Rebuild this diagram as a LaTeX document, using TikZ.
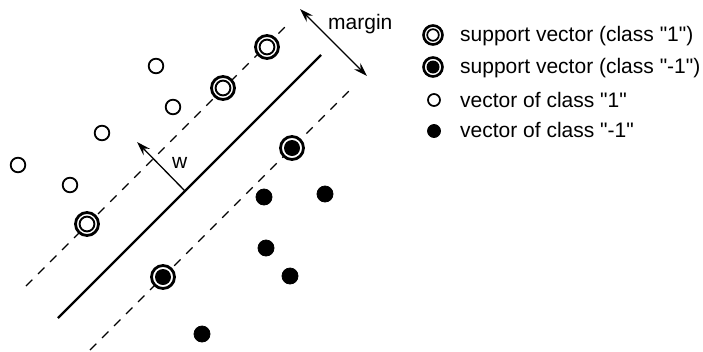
\documentclass[tikz,border=0pt]{standalone}
\usepackage{fontspec}
\setmainfont{Liberation Sans}
% family without the TeX quote mapping, so " stays a straight quote
\newfontfamily\lblfont{Liberation Sans}
\usetikzlibrary{arrows.meta}
\begin{document}
\begin{tikzpicture}[x=1pt, y=-1pt,
  % hyperplane and margin boundaries
  boundary/.style={line width=2.4pt},
  marginline/.style={line width=1.1pt, dash pattern=on 9pt off 8pt},
  tip/.style={Stealth[length=14pt, width=9pt, inset=5pt]},
  vecarrow/.style={line width=1.3pt, -{Stealth[length=14pt, width=9pt, inset=5pt]}},
  marginarrow/.style={line width=1.3pt, {Stealth[length=14pt, width=9pt, inset=5pt]}-{Stealth[length=14pt, width=9pt, inset=5pt]}},
  % data points
  svone/.style={circle, draw, fill=white, line width=2.8pt, minimum size=23pt, inner sep=0pt,
    path picture={\draw[black, line width=1.9pt] (path picture bounding box.center) circle (7.4pt);}},
  svtwo/.style={circle, draw, fill=white, line width=2.8pt, minimum size=23pt, inner sep=0pt,
    path picture={\fill[black] (path picture bounding box.center) circle (8pt);}},
  posvec/.style={circle, draw, fill=white, line width=1.8pt, minimum size=14.6pt, inner sep=0pt},
  negvec/.style={circle, draw, fill=black, line width=0.8pt, minimum size=16pt, inner sep=0pt},
  % smaller legend markers
  lsvone/.style={circle, draw, fill=white, line width=2.6pt, minimum size=19pt, inner sep=0pt,
    path picture={\draw[black, line width=1.7pt] (path picture bounding box.center) circle (5.8pt);}},
  lsvtwo/.style={circle, draw, fill=white, line width=2.6pt, minimum size=19pt, inner sep=0pt,
    path picture={\fill[black] (path picture bounding box.center) circle (6.5pt);}},
  lposvec/.style={circle, draw, fill=white, line width=1.7pt, minimum size=12pt, inner sep=0pt},
  lnegvec/.style={circle, draw, fill=black, line width=0.8pt, minimum size=13pt, inner sep=0pt},
  lbl/.style={anchor=base west, inner sep=0pt, font=\lblfont\fontsize{21}{25}\selectfont}
]
\useasboundingbox[fill=white] (0,0) rectangle (703,351);

% separating hyperplane and the two margin lines
\coordinate (hA) at (58,318);
\coordinate (hB) at (321,55);
\coordinate (uA) at (26,286);
\coordinate (uB) at (289,23);
\coordinate (lA) at (90,350);
\coordinate (lB) at (353,87);
\draw[marginline] (uA) -- (uB);
\draw[marginline] (lA) -- (lB);
\draw[boundary] (hA) -- (hB);

% normal vector w
\coordinate (wS) at (185,191);
\coordinate (wE) at (137,142);
\draw[vecarrow] (wS) -- (wE);
\node[lbl] (wlab) at (172,168) {w};

% margin width
\coordinate (mA) at (300,9);
\coordinate (mB) at (367,76);
\draw[marginarrow] (mA) -- (mB);
\node[lbl] (mlab) at (328,29) {margin};

% class "1" vectors
\node[posvec] (p1) at (156,66) {};
\node[posvec] (p2) at (173,107) {};
\node[posvec] (p3) at (102,133) {};
\node[posvec] (p4) at (18,165) {};
\node[posvec] (p5) at (70,185) {};

% class "-1" vectors
\node[negvec] (n1) at (264,197) {};
\node[negvec] (n2) at (325,194) {};
\node[negvec] (n3) at (266,248) {};
\node[negvec] (n4) at (290,276) {};
\node[negvec] (n5) at (202,334) {};

% support vectors
\node[svone] (s1) at (267,47) {};
\node[svone] (s2) at (223,88) {};
\node[svone] (s3) at (87,224) {};
\node[svtwo] (s4) at (292,148) {};
\node[svtwo] (s5) at (163,277) {};

% legend
\node[lsvone] (k1) at (433,35) {};
\node[lsvtwo] (k2) at (433,67) {};
\node[lposvec] (k3) at (434,100) {};
\node[lnegvec] (k4) at (434,131) {};
\node[lbl] (t1) at (460,41) {support vector (class "1")};
\node[lbl] (t2) at (460,73) {support vector (class "-1")};
\node[lbl] (t3) at (460,107) {vector of class "1"};
\node[lbl] (t4) at (460,137) {vector of class "-1"};
\end{tikzpicture}
\end{document}
